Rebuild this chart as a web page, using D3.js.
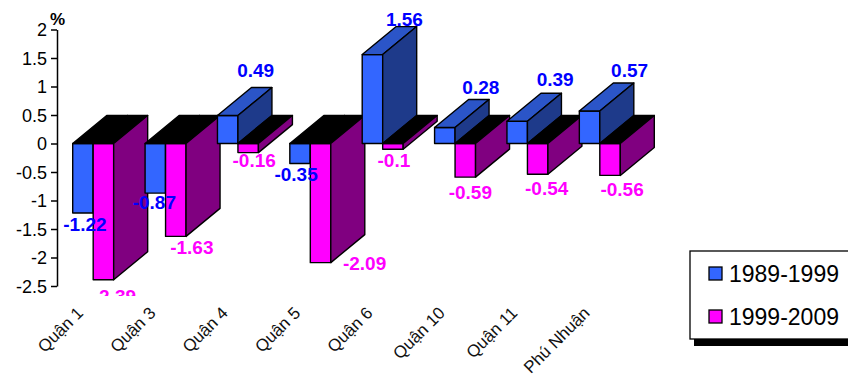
<!DOCTYPE html>
<html><head><meta charset="utf-8">
<script src="https://cdn.jsdelivr.net/npm/d3@7"></script>
<style>html,body{margin:0;padding:0;background:#fff;}svg{display:block;}</style>
</head><body>
<svg id="c" width="848" height="381"></svg>
<script>
const categories = ["Quận 1","Quận 3","Quận 4","Quận 5","Quận 6","Quận 10","Quận 11","Phú Nhuận"];
const seriesNames = ["1989-1999","1999-2009"];
const values1989 = [-1.22,-0.87,0.49,-0.35,1.56,0.28,0.39,0.57];
const values1999 = [-2.39,-1.63,-0.16,-2.09,-0.1,-0.59,-0.54,-0.56];
const yTicks = [2,1.5,1,0.5,0,-0.5,-1,-1.5,-2,-2.5];

// layout: small label nudges (dx, dy) per category, for each series
const labelNudge1989 = [[2,2],[-1,0],[-6,-4],[-4,2],[-2,6],[2,1],[4,0],[6,1]];
const labelNudge1999 = [[2,4],[7,-1],[-3,-5],[35,-12],[-8,-1],[-4,3],[0,2],[3,2]];

const colors = [
  {front:"#3366FF", top:"#2B55C8", side:"#1E3A8A", label:"#0000FF"},
  {front:"#FF00FF", top:"#000000", side:"#800080", label:"#FF00FF"}
];
const DX = 34, DY = -28;
const FONT = "Liberation Sans, Arial, sans-serif";

const svg = d3.select("#c");
const y = d3.scaleLinear().domain([-2.5, 2]).range([286, 29.5]);
const x = d3.scaleBand().domain(categories).range([57, 636]).paddingInner(0.434).paddingOuter(0.217);
const xs = d3.scaleBand().domain(seriesNames).range([0, x.bandwidth()]);

const table = categories.map((c,i)=>({cat:c, vals:[values1989[i], values1999[i]], nudge:[labelNudge1989[i], labelNudge1999[i]]}));

svg.append("defs").append("clipPath").attr("id","plotclip")
  .append("rect").attr("x",0).attr("y",0).attr("width",848).attr("height",296);

const bars = svg.append("g");
const stroke = "#000", sw = 1.4;
const pts = a => a.map(p=>p.join(",")).join(" ");
table.forEach(d=>{
  d.vals.forEach((v,si)=>{
    const bx = x(d.cat) + xs(seriesNames[si]);
    const w = xs.bandwidth();
    const top = y(Math.max(v,0)), bot = y(Math.min(v,0));
    const g = bars.append("g");
    const col = colors[si];
    const topFill = v < 0 ? "#000000" : col.top;
    g.append("rect").attr("x",bx).attr("y",top).attr("width",w).attr("height",bot-top)
      .attr("fill",col.front).attr("stroke",stroke).attr("stroke-width",sw).attr("stroke-linejoin","round");
    g.append("polygon").attr("points",pts([[bx,top],[bx+w,top],[bx+w+DX,top+DY],[bx+DX,top+DY]]))
      .attr("fill",topFill).attr("stroke",stroke).attr("stroke-width",sw).attr("stroke-linejoin","round");
    g.append("polygon").attr("points",pts([[bx+w,top],[bx+w+DX,top+DY],[bx+w+DX,bot+DY],[bx+w,bot]]))
      .attr("fill",col.side).attr("stroke",stroke).attr("stroke-width",sw).attr("stroke-linejoin","round");
  });
});

// value labels
const labels = svg.append("g").attr("clip-path","url(#plotclip)")
  .attr("font-family",FONT).attr("font-weight","bold").attr("font-size",19)
  .attr("text-anchor","middle");
table.forEach(d=>{
  d.vals.forEach((v,si)=>{
    const bx = x(d.cat) + xs(seriesNames[si]);
    const cx = bx + xs.bandwidth()/2;
    let lx, ly;
    if (v >= 0) { lx = cx + DX; ly = y(v) + DY - 7; }
    else if (si === 0) { lx = cx; ly = y(v) + 16; }
    else { lx = cx + 9; ly = y(v) + 19; }
    labels.append("text").attr("x",lx + d.nudge[si][0]).attr("y",ly + d.nudge[si][1])
      .attr("fill",colors[si].label).text(String(v));
  });
});

// y axis
const yAxis = d3.axisLeft(y).tickValues(yTicks).tickSize(6).tickSizeOuter(0).tickPadding(4).tickFormat(d=>String(d));
const ag = svg.append("g").attr("transform","translate(57,0)").call(yAxis);
ag.select(".domain").attr("stroke","#000").attr("stroke-width",1.5);
ag.selectAll(".tick line").attr("stroke","#000").attr("stroke-width",1.5);
ag.selectAll(".tick text").attr("font-family",FONT).attr("font-size",18).attr("fill","#000").attr("dy","0.35em");
svg.append("text").attr("x",50).attr("y",25).attr("font-family",FONT)
  .attr("font-weight","bold").attr("font-size",17).text("%");

// x labels
const xg = svg.append("g");
categories.forEach(c=>{
  const ax = x(c) + x.bandwidth()/2 - 9, ay = 314;
  xg.append("text").attr("transform",`translate(${ax},${ay}) rotate(-45)`)
    .attr("text-anchor","end").attr("font-family",FONT)
    .attr("font-size",17).attr("fill","#111").text(c);
});

// legend
const lg = svg.append("g");
lg.append("rect").attr("x",694).attr("y",256).attr("width",160).attr("height",90).attr("fill","#000");
lg.append("rect").attr("x",690).attr("y",251).attr("width",160).attr("height",88).attr("fill","#fff").attr("stroke","#000").attr("stroke-width",1.3);
seriesNames.forEach((s,i)=>{
  const yy = 267 + i*43;
  lg.append("rect").attr("x",709).attr("y",yy).attr("width",13).attr("height",13)
    .attr("fill",colors[i].front).attr("stroke","#000").attr("stroke-width",1.3);
  lg.append("text").attr("x",729).attr("y",yy+15).attr("font-family",FONT)
    .attr("font-size",23).attr("fill","#000").text(s);
});
</script>
</body></html>
